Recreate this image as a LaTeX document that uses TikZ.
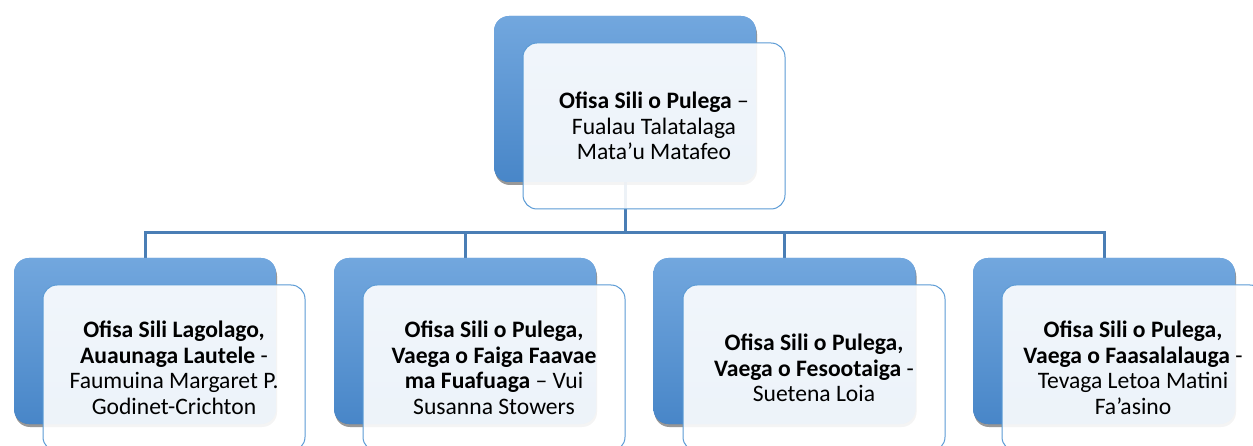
\documentclass[tikz,border=0pt]{standalone}
\usepackage{fontspec}
\setmainfont{Carlito}
\usetikzlibrary{shadows}
\definecolor{conn}{HTML}{4A7EB5}
\definecolor{btop}{HTML}{72A7DE}
\definecolor{bbot}{HTML}{4886C8}
\definecolor{wedge}{HTML}{5B9BD5}
\tikzset{
  bluebox/.style={rectangle, rounded corners=15pt, minimum width=262pt, minimum height=166pt,
    top color=btop, bottom color=bbot, draw=none,
    drop shadow={opacity=0.35, shadow xshift=1pt, shadow yshift=-3pt, fill=black!70}},
  whitebox/.style={rectangle, rounded corners=14pt, minimum width=262pt, minimum height=166pt,
    draw=wedge, line width=1pt, fill=white, fill opacity=0.9, text opacity=1,
    align=center, font=\fontsize{23.6}{25.5}\selectfont, text=black},
  connector/.style={draw=conn, line width=3pt}
}
\begin{document}
\begin{tikzpicture}[x=1pt,y=-1pt]
\useasboundingbox (0,0) rectangle (1253,446);
% blue boxes
\node[bluebox] (tb) at (625,99) {};
\node[bluebox] (b1) at (145,341) {};
\node[bluebox] (b2) at (465,341) {};
\node[bluebox] (b3) at (784.5,341) {};
\node[bluebox] (b4) at (1104,341) {};
% connectors
\coordinate (hub) at (625,233);
\draw[connector] (tb.south) -- (hub);
\draw[connector] (hub) -| (b1.north);
\draw[connector] (hub) -| (b2.north);
\draw[connector] (hub) -| (b3.north);
\draw[connector] (hub) -| (b4.north);
% redraw blue boxes over connector ends
\node[bluebox] at (625,99) {};
\node[bluebox] at (145,341) {};
\node[bluebox] at (465,341) {};
\node[bluebox] at (784.5,341) {};
\node[bluebox] at (1104,341) {};
% white boxes
\node[whitebox] (tw) at (654,126) {\textbf{Ofisa Sili o Pulega} –\\Fualau Talatalaga\\Mata’u Matafeo};
\node[whitebox] (w1) at (174,368) {\textbf{Ofisa Sili Lagolago,}\\\textbf{Auaunaga Lautele} -\\Faumuina Margaret P.\\Godinet-Crichton};
\node[whitebox] (w2) at (494,368) {\textbf{Ofisa Sili o Pulega,}\\\textbf{Vaega o Faiga Faavae}\\\textbf{ma Fuafuaga} – Vui\\Susanna Stowers};
\node[whitebox] (w3) at (814,368) {\textbf{Ofisa Sili o Pulega,}\\\textbf{Vaega o Fesootaiga} -\\Suetena Loia};
\node[whitebox] (w4) at (1133,368) {\textbf{Ofisa Sili o Pulega,}\\\textbf{Vaega o Faasalalauga} -\\Tevaga Letoa Matini\\Fa’asino};
\end{tikzpicture}
\end{document}
